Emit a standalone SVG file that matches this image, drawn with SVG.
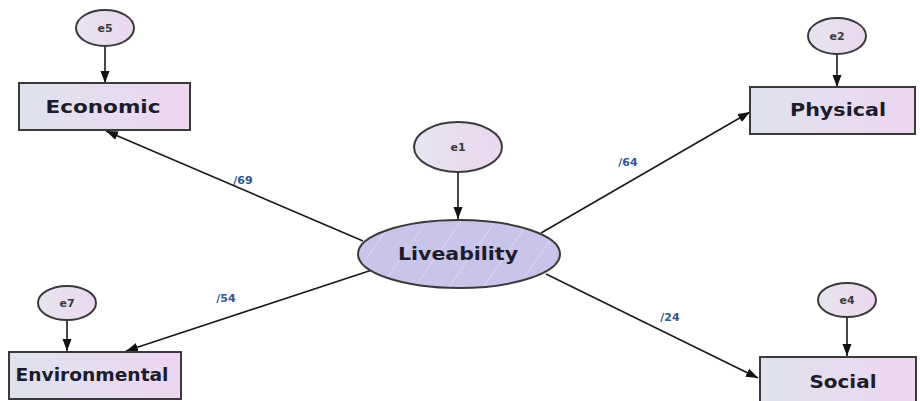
<svg xmlns="http://www.w3.org/2000/svg" width="920" height="401" viewBox="0 0 920 401">
<defs>
  <linearGradient id="boxg" x1="0" y1="0" x2="1" y2="0">
    <stop offset="0" stop-color="#dfe2ee"/>
    <stop offset="1" stop-color="#eed6f0"/>
  </linearGradient>
  <linearGradient id="circg" x1="0" y1="0" x2="1" y2="0">
    <stop offset="0" stop-color="#e6e4f0"/>
    <stop offset="1" stop-color="#ecd7ef"/>
  </linearGradient>
  <pattern id="hatch" patternUnits="userSpaceOnUse" width="28" height="28" patternTransform="rotate(35)">
    <rect width="28" height="28" fill="#c8c4ea"/>
    <line x1="0" y1="0" x2="0" y2="28" stroke="#dcdaf4" stroke-width="1.6"/>
  </pattern>
  <marker id="arr" markerUnits="userSpaceOnUse" markerWidth="13" markerHeight="10" refX="12" refY="4.5" orient="auto">
    <path d="M0,0 L12,4.5 L0,9 z" fill="#111"/>
  </marker>
  <style>
    .box{fill:url(#boxg);stroke:#3a3a3a;stroke-width:2}
    .err{fill:url(#circg);stroke:#3a3a3a;stroke-width:2}
    .lat{fill:url(#hatch);stroke:#3a3a3a;stroke-width:2}
    .lbl{font-family:"DejaVu Sans",Verdana,sans-serif;font-weight:bold;font-size:17px;fill:#1c1c2c;text-anchor:middle}
    .elbl{font-family:"DejaVu Sans",Verdana,sans-serif;font-weight:bold;font-size:11px;fill:#3a3a3a;text-anchor:middle}
    .coef{font-family:"DejaVu Sans",Verdana,sans-serif;font-weight:bold;font-size:11px;fill:#2d5690;text-anchor:middle}
    .conn{stroke:#1a1a1a;stroke-width:1.6;fill:none;marker-end:url(#arr)}
  </style>
</defs>
<rect width="920" height="401" fill="#ffffff"/>

<g id="connectors">
  <line class="conn" x1="105" y1="47" x2="105" y2="83"/>
  <line class="conn" x1="837" y1="54" x2="837" y2="87"/>
  <line class="conn" x1="458" y1="172" x2="458" y2="219"/>
  <line class="conn" x1="67" y1="320" x2="67" y2="351"/>
  <line class="conn" x1="847" y1="317" x2="847" y2="356"/>
  <line class="conn" x1="363" y1="241" x2="106" y2="131"/>
  <line class="conn" x1="541" y1="233" x2="750" y2="112"/>
  <line class="conn" x1="372" y1="270" x2="126" y2="351"/>
  <line class="conn" x1="546" y1="274" x2="758" y2="378"/>
  <text class="coef" x="243" y="184">/69</text>
  <text class="coef" x="628" y="166">/64</text>
  <text class="coef" x="226" y="302">/54</text>
  <text class="coef" x="670" y="321">/24</text>
</g>

<g id="e5">
  <ellipse class="err" cx="105" cy="28" rx="29" ry="18"/>
  <text class="elbl" x="105" y="32">e5</text>
</g>
<g id="economic">
  <rect class="box" x="19" y="83" width="171" height="47"/>
  <text class="lbl" x="103" y="113" textLength="115" lengthAdjust="spacingAndGlyphs">Economic</text>
</g>

<g id="e2">
  <ellipse class="err" cx="837" cy="36" rx="29" ry="18"/>
  <text class="elbl" x="837" y="40">e2</text>
</g>
<g id="physical">
  <rect class="box" x="750" y="87" width="165" height="47"/>
  <text class="lbl" x="838" y="116" textLength="96" lengthAdjust="spacingAndGlyphs">Physical</text>
</g>

<g id="e1">
  <ellipse class="err" cx="458" cy="147" rx="44" ry="25"/>
  <text class="elbl" x="458" y="151">e1</text>
</g>
<g id="liveability">
  <ellipse class="lat" cx="459" cy="254" rx="101" ry="34"/>
  <text class="lbl" x="458" y="260" font-size="18" textLength="120" lengthAdjust="spacingAndGlyphs">Liveability</text>
</g>

<g id="e7">
  <ellipse class="err" cx="67" cy="303" rx="29" ry="17"/>
  <text class="elbl" x="67" y="307">e7</text>
</g>
<g id="environmental">
  <rect class="box" x="9" y="352" width="172" height="47"/>
  <text class="lbl" x="92" y="381" textLength="153" lengthAdjust="spacingAndGlyphs">Environmental</text>
</g>

<g id="e4">
  <ellipse class="err" cx="847" cy="300" rx="29" ry="17"/>
  <text class="elbl" x="847" y="304">e4</text>
</g>
<g id="social">
  <rect class="box" x="760" y="357" width="156" height="47"/>
  <text class="lbl" x="843" y="388" textLength="67" lengthAdjust="spacingAndGlyphs">Social</text>
</g>
</svg>
